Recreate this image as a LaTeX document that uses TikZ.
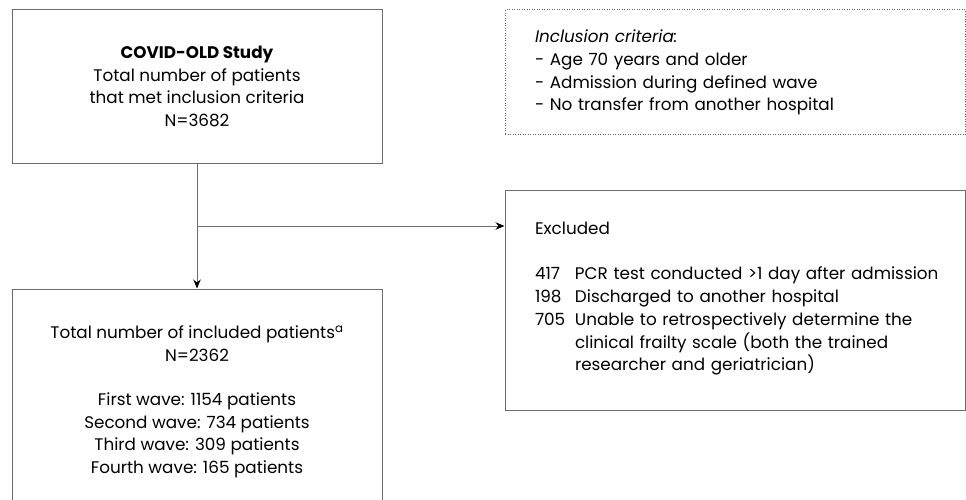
\documentclass[tikz,border=0pt]{standalone}
\usepackage{fontspec}
\setmainfont{Poppins}
\usetikzlibrary{arrows.meta,positioning,calc}

\begin{document}
\begin{tikzpicture}[x=1pt,y=-1pt,
    flowbox/.style={draw=gray!85!black, line width=1pt, inner sep=0pt,
        font=\fontsize{16.8}{22.8}\selectfont},
    notebox/.style={flowbox, draw=gray!80!black, dash pattern=on 1pt off 1.5pt},
    >={Stealth[length=9pt,width=7.5pt,black]}]
    \clip (0,0) rectangle (966,500);

    % Study population
    \node[flowbox, minimum width=370pt, minimum height=153pt, align=center] (study) at (197,86.5)
        {\textbf{COVID-OLD Study}\\Total number of patients\\that met inclusion criteria\\N=3682};

    % Inclusion criteria
    \node[notebox, minimum width=460pt, minimum height=125pt, text width=400pt, inner xsep=30pt, align=left] (criteria) at (735,72.5)
        {\textit{Inclusion criteria:}\\- Age 70 years and older\\- Admission during defined wave\\- No transfer from another hospital};

    % Included patients
    \node[flowbox, minimum width=370pt, minimum height=226pt, align=center] (included) at (197,402)
        {Total number of included patients\textsuperscript{a}\\N=2362\\[21pt]First wave: 1154 patients\\Second wave: 734 patients\\Third wave: 309 patients\\Fourth wave: 165 patients};

    % Excluded patients
    \node[flowbox, minimum width=460pt, minimum height=220pt, text width=400pt, inner xsep=30pt, align=left] (excluded) at (735,300)
        {Excluded\\[28pt]
        \begin{tabular}{@{}p{40pt}@{}l@{}}
            417 & PCR test conducted >1 day after admission\\
            198 & Discharged to another hospital\\
            705 & Unable to retrospectively determine the\\
                & clinical frailty scale (both the trained\\
                & researcher and geriatrician)
        \end{tabular}};

    % Arrows
    \coordinate (branch) at ($(study.south)!0.5!(included.north)$);
    \draw[gray!85!black, line width=1pt, ->] (study.south) -- (included.north);
    \draw[gray!85!black, line width=1pt, ->] (branch) -- (branch -| excluded.west);
\end{tikzpicture}
\end{document}
